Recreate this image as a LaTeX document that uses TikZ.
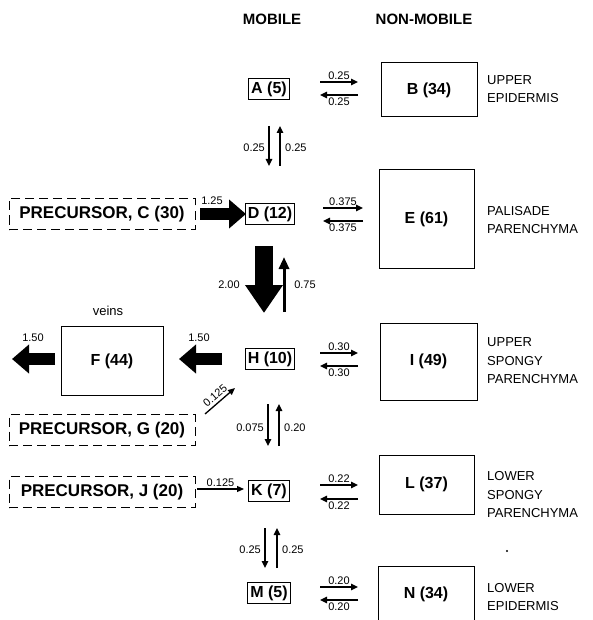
\documentclass[tikz,border=0pt]{standalone}
\usepackage{fontspec}
\setmainfont{Liberation Sans}
\usetikzlibrary{arrows.meta}
\begin{document}
\begin{tikzpicture}[x=1pt,y=-1pt,
  mob/.style={draw, line width=1pt, font=\bfseries\fontsize{16}{18}\selectfont, inner xsep=2.5pt, inner ysep=3pt},
  nonmob/.style={draw, line width=1pt, font=\bfseries\fontsize{16}{18}\selectfont, inner sep=0pt},
  prec/.style={draw, line width=1pt, dash pattern=on 9pt off 5pt, font=\bfseries\fontsize{17}{19}\selectfont, minimum width=186pt, minimum height=31pt, inner sep=0pt},
  num/.style={font=\fontsize{11}{12}\selectfont, inner sep=0pt},
  tissue/.style={font=\fontsize{13}{18.5}\selectfont, align=left, anchor=west, inner sep=0pt},
  headtxt/.style={font=\bfseries\fontsize{15}{18}\selectfont},
  thinarr/.style={line width=1.4pt, -{Triangle[length=7pt,width=6.5pt]}},
  blkarr/.style={line width=12pt, -{Triangle[length=17pt,width=28pt]}},
]
\useasboundingbox (0,0) rectangle (592,620);
\fill[white] (0,0) rectangle (592,620);

% headers
\node[headtxt] (hm) at (272,19) {MOBILE};
\node[headtxt] (hn) at (424,19) {NON-MOBILE};

% row A/B
\node[mob] (A) at (269,89) {A (5)};
\node[nonmob, minimum width=96pt, minimum height=54pt] (B) at (429,90) {B (34)};
\node[tissue] (tB) at (487,89) {UPPER\\EPIDERMIS};

% row C/D/E
\node[prec] (C) at (102,214) {PRECURSOR, C (30)};
\node[mob] (D) at (270,214) {D (12)};
\node[nonmob, minimum width=95pt, minimum height=98pt] (E) at (426.5,219) {E (61)};
\node[tissue] (tE) at (487,220) {PALISADE\\PARENCHYMA};

% row F/H/I
\node[nonmob, minimum width=102pt, minimum height=69pt] (F) at (112,361) {F (44)};
\node[font=\fontsize{13}{15}\selectfont] (veins) at (108,311) {veins};
\node[mob] (H) at (270,359) {H (10)};
\node[nonmob, minimum width=97pt, minimum height=77pt] (I) at (428.5,361.5) {I (49)};
\node[tissue] (tI) at (487,361) {UPPER\\SPONGY\\PARENCHYMA};

% G
\node[prec] (G) at (102,430) {PRECURSOR, G (20)};

% row J/K/L
\node[prec] (J) at (102,492) {PRECURSOR, J (20)};
\node[mob] (K) at (269,491) {K (7)};
\node[nonmob, minimum width=95pt, minimum height=59pt] (L) at (426.5,484.5) {L (37)};
\node[tissue] (tL) at (487,495) {LOWER\\SPONGY\\PARENCHYMA};

% row M/N
\node[mob] (M) at (269,593) {M (5)};
\node[nonmob, minimum width=96pt, minimum height=56pt] (N) at (426,594) {N (34)};
\node[tissue] (tN) at (487,597) {LOWER\\EPIDERMIS};
\fill (507,551) circle (1.1);

% horizontal exchange arrows
\coordinate (ab1) at (320,82);  \coordinate (ab2) at (358,82);
\coordinate (ba1) at (358,95);  \coordinate (ba2) at (320,95);
\draw[thinarr] (ab1) -- node[num, above=2pt] {0.25} (ab2);
\draw[thinarr] (ba1) -- node[num, below=2pt] {0.25} (ba2);

\coordinate (de1) at (323,208); \coordinate (de2) at (363,208);
\coordinate (ed1) at (363,221); \coordinate (ed2) at (323,221);
\draw[thinarr] (de1) -- node[num, above=2pt] {0.375} (de2);
\draw[thinarr] (ed1) -- node[num, below=2pt] {0.375} (ed2);

\coordinate (hi1) at (320,353); \coordinate (hi2) at (358,353);
\coordinate (ih1) at (358,366); \coordinate (ih2) at (320,366);
\draw[thinarr] (hi1) -- node[num, above=2pt] {0.30} (hi2);
\draw[thinarr] (ih1) -- node[num, below=2pt] {0.30} (ih2);

\coordinate (kl1) at (320,485); \coordinate (kl2) at (358,485);
\coordinate (lk1) at (358,499); \coordinate (lk2) at (320,499);
\draw[thinarr] (kl1) -- node[num, above=2pt] {0.22} (kl2);
\draw[thinarr] (lk1) -- node[num, below=2pt] {0.22} (lk2);

\coordinate (mn1) at (320,587); \coordinate (mn2) at (358,587);
\coordinate (nm1) at (358,600); \coordinate (nm2) at (320,600);
\draw[thinarr] (mn1) -- node[num, above=2pt] {0.20} (mn2);
\draw[thinarr] (nm1) -- node[num, below=2pt] {0.20} (nm2);

% vertical arrows A-D
\coordinate (ad1) at (269,126); \coordinate (ad2) at (269,166);
\coordinate (da1) at (280,166); \coordinate (da2) at (280,126);
\draw[thinarr] (ad1) -- (ad2);
\draw[thinarr] (da1) -- (da2);
\node[num, anchor=east] (lad) at (265,148) {0.25};
\node[num, anchor=west] (lda) at (285,148) {0.25};

% H-K
\coordinate (hk1) at (268,404); \coordinate (hk2) at (268,446);
\coordinate (kh1) at (279,446); \coordinate (kh2) at (279,404);
\draw[thinarr] (hk1) -- (hk2);
\draw[thinarr] (kh1) -- (kh2);
\node[num, anchor=east] (lhk) at (264,428) {0.075};
\node[num, anchor=west] (lkh) at (284,428) {0.20};

% K-M
\coordinate (km1) at (265,528); \coordinate (km2) at (265,568);
\coordinate (mk1) at (277,568); \coordinate (mk2) at (277,528);
\draw[thinarr] (km1) -- (km2);
\draw[thinarr] (mk1) -- (mk2);
\node[num, anchor=east] (lkm) at (261,550) {0.25};
\node[num, anchor=west] (lmk) at (282,550) {0.25};

% block arrows
\coordinate (cd1) at (200,214); \coordinate (cd2) at (246,214);
\draw[blkarr, line width=11pt] (cd1) -- (cd2);
\node[num] (l125) at (212,201) {1.25};

\coordinate (dh1) at (264,246); \coordinate (dh2) at (264,313);
\draw[line width=18pt, -{Triangle[length=28pt,width=36pt]}] (dh1) -- (dh2);
\node[num] (l200) at (229,285) {2.00};

\coordinate (hd1) at (284,312); \coordinate (hd2) at (284,257);
\draw[line width=3pt, -{Triangle[length=12pt,width=10pt]}] (hd1) -- (hd2);
\node[num] (l075) at (305,285) {0.75};

\coordinate (hf1) at (222,359); \coordinate (hf2) at (179,359);
\draw[blkarr] (hf1) -- (hf2);
\node[num] (l150b) at (199,338) {1.50};

\coordinate (fo1) at (55,359); \coordinate (fo2) at (12,359);
\draw[blkarr] (fo1) -- (fo2);
\node[num] (l150a) at (33,338) {1.50};

% precursor inputs
\coordinate (gh1) at (205,414); \coordinate (gh2) at (235,388);
\draw[line width=1.3pt, -{Triangle[length=7pt,width=6pt]}] (gh1) -- node[num, sloped, above=3pt] {0.125} (gh2);

\coordinate (jk1) at (197,489); \coordinate (jk2) at (244,489);
\draw[line width=1.2pt, -{Triangle[length=7pt,width=6pt]}] (jk1) -- node[num, above=2pt] {0.125} (jk2);

\end{tikzpicture}
\end{document}
